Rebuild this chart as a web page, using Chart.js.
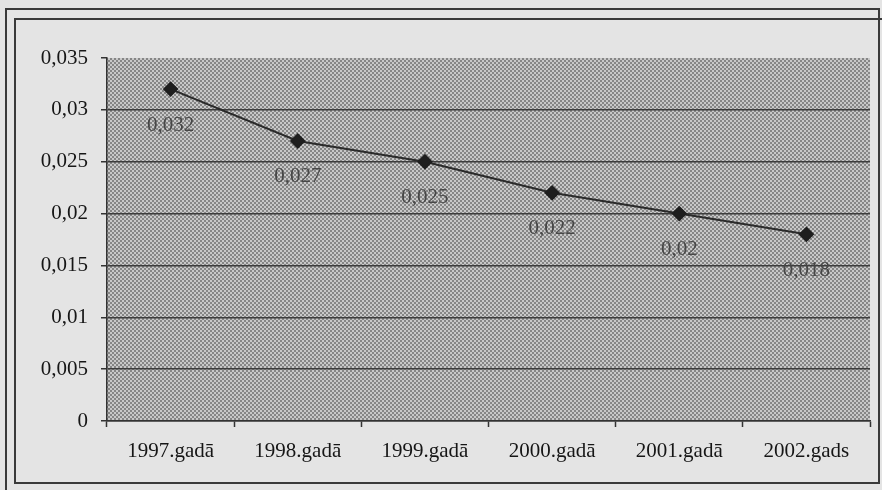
<!DOCTYPE html>
<html>
<head>
<meta charset="utf-8">
<script src="https://cdn.jsdelivr.net/npm/chart.js@4/dist/chart.umd.min.js"></script>
<style>
  html, body { margin: 0; padding: 0; background: #e4e4e4; }
  #wrap { width: 882px; height: 490px; }
</style>
</head>
<body>
<div id="wrap"><canvas id="c" width="882" height="490"></canvas></div>
<script>
// Years on the category axis
const years = ['1997.gadā', '1998.gadā', '1999.gadā', '2000.gadā', '2001.gadā', '2002.gads'];
// Yearly values
const values = [0.032, 0.027, 0.025, 0.022, 0.020, 0.018];
// Value axis range and step
const yMin = 0;
const yMax = 0.035;
const yStep = 0.005;

const FONT = '"Liberation Serif", "Times New Roman", serif';

// Decimal comma formatting
const fmt = v => String(+Number(v).toFixed(3)).replace('.', ',');

// Halftone-like dotted fill for the plot area
function dotPattern(ctx) {
  const p = document.createElement('canvas');
  p.width = 4; p.height = 4;
  const g = p.getContext('2d');
  g.fillStyle = '#c8c8c8';
  g.fillRect(0, 0, 4, 4);
  g.fillStyle = '#868686';
  g.fillRect(0, 0, 2, 2);
  g.fillRect(2, 2, 2, 2);
  return ctx.createPattern(p, 'repeat');
}

// Page background, frame lines and plot fill
const framePlugin = {
  id: 'frame',
  beforeDraw(chart) {
    const ctx = chart.ctx;
    const a = chart.chartArea;
    ctx.save();
    ctx.fillStyle = '#e4e4e4';
    ctx.fillRect(0, 0, chart.width, chart.height);
    ctx.strokeStyle = '#3a3a3a';
    ctx.lineWidth = 2;
    // outer border lines
    ctx.beginPath();
    ctx.moveTo(6, 490); ctx.lineTo(6, 9); ctx.lineTo(879, 9); ctx.lineTo(879, 19);
    ctx.stroke();
    // chart frame
    ctx.beginPath();
    ctx.rect(15, 19, 864, 464);
    ctx.stroke();
    ctx.beginPath();
    ctx.moveTo(879, 19); ctx.lineTo(882, 19);
    ctx.stroke();
    // plot area fill
    ctx.fillStyle = dotPattern(ctx);
    ctx.fillRect(a.left, a.top, a.right - a.left, a.bottom - a.top);
    ctx.restore();
  }
};

// Value labels under each point
const valueLabels = {
  id: 'valueLabels',
  afterDatasetsDraw(chart) {
    const ctx = chart.ctx;
    const meta = chart.getDatasetMeta(0);
    const data = chart.data.datasets[0].data;
    ctx.save();
    ctx.font = '21px ' + FONT;
    ctx.fillStyle = '#474747';
    ctx.textAlign = 'center';
    ctx.textBaseline = 'middle';
    meta.data.forEach((pt, i) => {
      ctx.fillText(fmt(data[i]), pt.x, pt.y + 36);
    });
    ctx.restore();
  }
};

new Chart(document.getElementById('c'), {
  type: 'line',
  data: {
    labels: years,
    datasets: [{
      data: values,
      borderColor: '#2a2a2a',
      borderWidth: 2,
      backgroundColor: '#1e1e1e',
      pointStyle: 'rectRot',
      pointRadius: 6.5,
      pointHoverRadius: 6.5,
      pointBorderColor: '#1e1e1e',
      tension: 0,
      fill: false
    }]
  },
  options: {
    responsive: false,
    animation: false,
    devicePixelRatio: 1,
    layout: { padding: { left: 15, right: 12, top: 58, bottom: 20 } },
    plugins: {
      legend: { display: false },
      tooltip: { enabled: false }
    },
    scales: {
      x: {
        type: 'category',
        offset: true,
        grid: {
          display: true,
          offset: true,
          drawOnChartArea: false,
          drawTicks: true,
          tickLength: 6,
          tickColor: '#333',
          tickWidth: 1.5
        },
        border: { display: true, color: '#333', width: 1.5 },
        ticks: {
          color: '#161616',
          padding: 12,
          maxRotation: 0,
          font: { family: FONT, size: 21 }
        },
        afterFit(scale) { scale.height = 49; }
      },
      y: {
        min: yMin,
        max: yMax,
        grid: {
          color: ctx => (ctx.tick && ctx.tick.value >= yMax - 1e-9) ? 'rgba(0,0,0,0)' : '#3c3c3c',
          lineWidth: 1.5,
          drawTicks: true,
          tickLength: 6,
          tickColor: '#333',
          tickWidth: 1.5
        },
        border: { display: true, color: '#333', width: 1.5 },
        ticks: {
          stepSize: yStep,
          color: '#161616',
          padding: 13,
          font: { family: FONT, size: 21 },
          callback: v => fmt(v)
        },
        afterFit(scale) { scale.width = 92; }
      }
    }
  },
  plugins: [framePlugin, valueLabels]
});
</script>
</body>
</html>
